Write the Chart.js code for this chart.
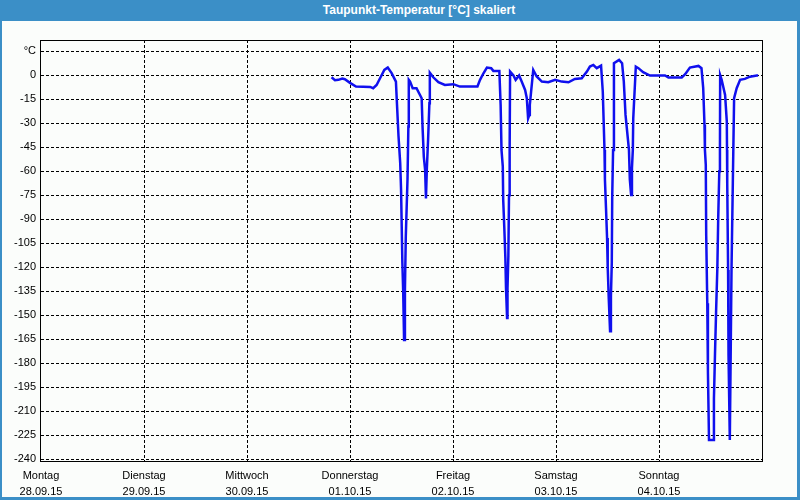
<!DOCTYPE html>
<html><head><meta charset="utf-8">
<script src="https://cdn.jsdelivr.net/npm/chart.js@4.4.1/dist/chart.umd.min.js"></script>
<style>
html,body{margin:0;padding:0;background:#fbfdfb;}
#wrap{position:relative;width:800px;height:500px;overflow:hidden;}
#title{position:absolute;left:0;top:0;width:800px;height:21px;box-sizing:border-box;padding-left:38px;text-align:center;color:#fff;font:bold 12px "Liberation Sans",Arial,sans-serif;line-height:21px;}
canvas{position:absolute;left:0;top:0;}
</style></head><body>
<div id="wrap"><canvas id="c" width="800" height="500"></canvas><div id="title">Taupunkt-Temperatur [°C] skaliert</div></div>
<script>
// Hours since Monday 28.09.15 00:00
const hours = [67.7,68.5,69.3,70.2,70.8,72.0,73.4,76.7,77.4,78.2,79.0,80.0,80.8,81.7,82.7,82.9,83.3,83.7,83.9,84.2,84.4,84.6,84.8,85.0,85.4,85.6,85.7,86.0,86.6,87.5,88.1,88.7,88.9,89.2,89.5,89.7,89.9,90.2,90.5,90.6,91.4,92.6,94.1,96.1,97.6,100.0,101.7,102.3,103.1,103.9,104.9,105.4,106.8,107.1,107.3,107.6,107.7,107.95,108.2,108.35,108.6,108.7,108.9,109.05,109.2,109.3,110.05,110.6,111.4,112.0,112.8,113.2,113.5,113.8,113.9,114.2,114.7,115.5,116.7,118.2,119.8,121.3,122.9,124.4,126.0,127.2,127.9,128.7,129.5,130.5,130.9,131.3,131.4,131.65,131.9,132.05,132.3,132.6,132.8,133.0,133.1,133.3,133.5,134.7,135.4,135.8,136.2,137.0,137.2,137.5,137.7,137.9,138.0,138.6,139.2,140.3,141.9,145.4,146.2,149.3,150.1,151.2,153.2,153.9,154.3,154.6,154.7,154.9,155.0,155.25,155.4,155.65,156.65,156.8,157.05,157.3,157.6,157.8,158.05,158.2,158.25,158.6,159.4,159.8,159.85,159.9,160.1,160.2,160.5,160.7,160.9,161.2,161.5,162.1,162.9,164.0,165.2,166.8,167.1];
const dewPoint = [-1.3,-3.1,-2.9,-2.1,-2.5,-4.8,-7.1,-7.3,-8.1,-6.1,-1.9,3.3,4.8,1.3,-4,-15.4,-38,-55,-71.7,-117,-136,-165.5,-134,-101,-65,-32,-2.9,-4,-8.1,-8.1,-11.3,-14.4,-32,-51,-59,-77,-59,-40,-17.5,1.5,-1.3,-4.4,-6.1,-5.6,-7.1,-7.1,-7.1,-2.9,1.2,4.8,4.4,2.7,2.7,-18.6,-46.7,-57,-78,-95,-114,-133,-151.7,-133,-113,-75,-47,2.3,0,-2.9,-0.2,-4,-9.2,-14.4,-27,-24.8,-18.6,-10.2,3.3,-0.8,-4,-4.4,-2.9,-4,-4.4,-2.3,-1.9,2.3,5.4,6.4,4.4,6,-10.2,-46.7,-65,-83,-101.7,-120,-140,-160,-138,-117,-76,-46.7,7.5,9.6,7.5,-4,-24.8,-46.7,-65,-74.8,-58,-46.7,-27,5.4,4.4,1.9,-0.2,-0.2,-1.5,-1.5,0.6,4.8,5.8,4.4,-8.1,-31,-46.7,-56,-100,-142.5,-185,-228,-228,-202,-174,-148,-120,-89,-60,-46.7,0,-2.9,-12.3,-29,-46.7,-67.5,-121.7,-175,-228,-175,-120.6,-67.5,-14.4,-8.1,-2.9,-2.3,-0.9,-0.2,-0.2];
const dayStarts = [0,24,48,72,96,120,144];
const dayNames = ["Montag","Dienstag","Mittwoch","Donnerstag","Freitag","Samstag","Sonntag"];
const dayDates = ["28.09.15","29.09.15","30.09.15","01.10.15","02.10.15","03.10.15","04.10.15"];
const yTicks = [-240,-225,-210,-195,-180,-165,-150,-135,-120,-105,-90,-75,-60,-45,-30,-15,0,15];
const yUnitLabel = "°C";

const BLUE = '#3b8fc7', BG = '#fbfdfb';
const frame = {
  id:'frame',
  beforeDraw(chart){
    const c = chart.ctx;
    c.save();
    c.fillStyle = BLUE; c.fillRect(0,0,800,500);
    c.fillStyle = BG; c.fillRect(2,21,795,476);
    c.restore();
  },
  afterDraw(chart){
    const a = chart.chartArea, c = chart.ctx;
    c.save();
    c.strokeStyle = '#000'; c.lineWidth = 1; c.setLineDash([]);
    c.strokeRect(Math.round(a.left)-0.5, Math.round(a.top)+0.5, Math.round(a.right-a.left)+1, Math.round(a.bottom-a.top));
    c.restore();
  }
};
const font = {family:'"Liberation Sans", Arial, sans-serif', size:11};
new Chart(document.getElementById('c'), {
  type:'line',
  data:{datasets:[{
    data: hours.map((h,i)=>({x:h,y:dewPoint[i]})),
    borderColor:'#1010ee', borderWidth:2.5, pointRadius:0, tension:0, fill:false
  }]},
  options:{
    responsive:false, animation:false,
    layout:{padding:{top:40,right:38,left:0,bottom:0}},
    plugins:{legend:{display:false},tooltip:{enabled:false},title:{display:false}},
    scales:{
      x:{type:'linear',min:0,max:168,
        afterBuildTicks:s=>{s.ticks=dayStarts.map(v=>({value:v}));},
        afterFit:s=>{s.height=39;},
        grid:{color:ctx=>(ctx.tick&&ctx.tick.value===0)?'rgba(0,0,0,0)':'#000',lineWidth:1,drawTicks:false},
        border:{display:false,dash:[3,2]},
        ticks:{autoSkip:false,maxRotation:0,padding:7,color:'#000',font:{...font,lineHeight:1.45},
          callback:v=>{const i=dayStarts.indexOf(v);return i<0?'':[dayNames[i],dayDates[i]];}}
      },
      y:{type:'linear',min:-241.1,max:22,
        afterBuildTicks:s=>{s.ticks=yTicks.map(v=>({value:v}));},
        afterFit:s=>{s.width=41;},
        grid:{color:'#000',lineWidth:1,drawTicks:false},
        border:{display:false,dash:[3,2]},
        ticks:{padding:5,color:'#000',font:font,callback:v=>v===15?yUnitLabel:String(v)}
      }
    }
  },
  plugins:[frame]
});
document.getElementById('title').style.background = BLUE;
</script>
</body></html>
